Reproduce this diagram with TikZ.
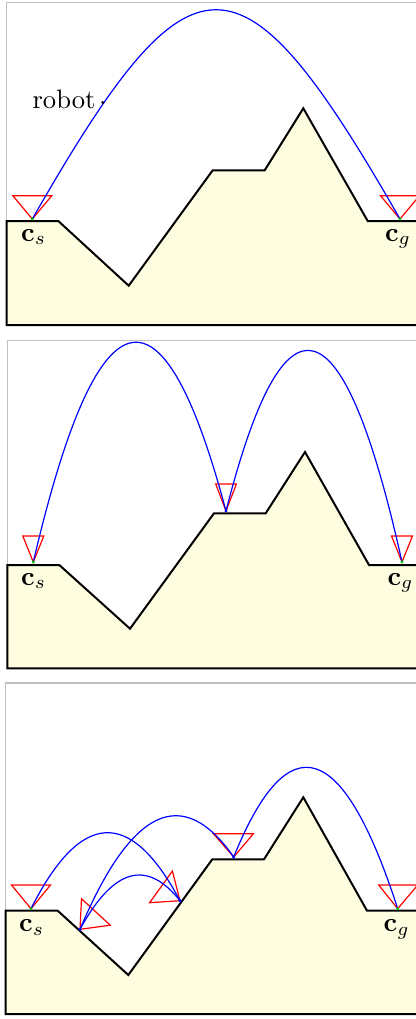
\documentclass[tikz,border=0pt]{standalone}
\definecolor{terrainfill}{RGB}{255,253,224}
\definecolor{framegray}{RGB}{192,192,192}
\definecolor{ptgreen}{RGB}{0,200,0}
\tikzset{
  terrain/.style={draw=black, fill=terrainfill, line width=0.75pt, line join=miter},
  framebox/.style={draw=framegray, line width=0.45pt},
  cone/.style={draw=red, line width=0.45pt, line join=miter},
  traj/.style={draw=blue, line width=0.45pt},
  enddot/.style={fill=ptgreen},
  middot/.style={fill=blue},
  lbl/.style={anchor=base, inner sep=0pt},
}
\begin{document}
\begin{tikzpicture}[x=0.376pt, y=-0.376pt]
\useasboundingbox (0,0) rectangle (416,1019);
\clip (0,0) rectangle (416,1019);

% ---------------- panel 1 ----------------
\draw[framebox] (6.3,2.3) rectangle (440,325);
\draw[terrain] (6.7,221) -- (58.3,221) -- (128.7,285.7) -- (212.7,170.3) -- (264.7,170.3)
  -- (303.3,108.3) -- (367.7,221) -- (440,221) -- (440,325) -- (6.7,325) -- cycle;
\coordinate (cs1) at (32.3,219);
\coordinate (cg1) at (400,219);
\coordinate (rob) at (102.7,102.5);
\draw[cone] (cs1) -- ++(-19.5,-23.3) -- ++(39,0) -- cycle;
\draw[cone] (cg1) -- ++(-19.5,-23.3) -- ++(39,0) -- cycle;
\draw[traj] (cs1) .. controls (192,-60) and (240,-60) .. (cg1);
\fill[enddot] (cs1) circle[radius=0.6pt];
\fill[enddot] (cg1) circle[radius=0.6pt];
\fill[black] (rob) circle[radius=0.6pt];
\node[anchor=base east, inner sep=0pt] (robl) at (96,108) {robot};
\node[lbl] (ls1) at (33.7,241) {$\mathbf{c}_s$};
\node[lbl] (lg1) at (398,241) {$\mathbf{c}_g$};

% ---------------- panel 2 ----------------
\draw[framebox] (7.3,340.7) rectangle (440,668.3);
\draw[terrain] (7.3,565) -- (59.3,565) -- (130,628.7) -- (214,513.3) -- (265.7,513.3)
  -- (305,452) -- (369,565) -- (440,565) -- (440,668.3) -- (7.3,668.3) -- cycle;
\coordinate (cs2) at (33.3,562);
\coordinate (m2) at (226,511);
\coordinate (cg2) at (402,562);
\draw[cone] (cs2) -- ++(-10.5,-26) -- ++(21,0) -- cycle;
\draw[cone] (m2) -- ++(-10.3,-27) -- ++(20.7,0) -- cycle;
\draw[cone] (cg2) -- ++(-10.5,-26) -- ++(21,0) -- cycle;
\draw[traj] (cs2) .. controls (97.5,287.1) and (161.8,270.1) .. (m2);
\draw[traj] (m2) .. controls (284.7,281.0) and (343.3,298.0) .. (cg2);
\fill[enddot] (cs2) circle[radius=0.6pt];
\fill[middot] (m2) circle[radius=0.65pt];
\fill[enddot] (cg2) circle[radius=0.6pt];
\node[lbl] (ls2) at (33.7,585) {$\mathbf{c}_s$};
\node[lbl] (lg2) at (400.5,585) {$\mathbf{c}_g$};

% ---------------- panel 3 ----------------
\draw[framebox] (5.7,683) rectangle (440,1014);
\draw[terrain] (5.7,910.7) -- (57.7,910.7) -- (128.3,975) -- (212.3,859.3) -- (264,859.3)
  -- (303.3,797.3) -- (367,910.7) -- (440,910.7) -- (440,1014) -- (5.7,1014) -- cycle;
\coordinate (cs3) at (31,908.7);
\coordinate (p1) at (80,929.3);
\coordinate (p2) at (180,900.7);
\coordinate (p3) at (233.7,857);
\coordinate (cg3) at (397.7,908.7);
\draw[cone] (cs3) -- ++(-19.5,-23.7) -- ++(39,0) -- cycle;
\draw[cone] (p1) -- ++(1.5,-30.5) -- ++(28.8,26.4) -- cycle;
\draw[cone] (p2) -- ++(-7.6,-29.6) -- ++(-22.8,31.6) -- cycle;
\draw[cone] (p3) -- ++(-20.3,-23.3) -- ++(40,0) -- cycle;
\draw[cone] (cg3) -- ++(-19,-23.7) -- ++(39,0) -- cycle;
\draw[traj] (cs3) .. controls (80.7,810.1) and (130.3,807.4) .. (p2);
\draw[traj] (p1) .. controls (131.2,807.9) and (182.5,783.8) .. (p3);
\draw[traj] (p1) .. controls (113.3,868.2) and (146.7,858.7) .. (p2);
\draw[traj] (p3) .. controls (288.4,722.1) and (343.0,739.4) .. (cg3);
\fill[enddot] (cs3) circle[radius=0.6pt];
\fill[middot] (p1) circle[radius=0.65pt];
\fill[middot] (p2) circle[radius=0.65pt];
\fill[middot] (p3) circle[radius=0.65pt];
\fill[enddot] (cg3) circle[radius=0.6pt];
\node[lbl] (ls3) at (31.7,931.7) {$\mathbf{c}_s$};
\node[lbl] (lg3) at (396.7,931.7) {$\mathbf{c}_g$};
\end{tikzpicture}
\end{document}
